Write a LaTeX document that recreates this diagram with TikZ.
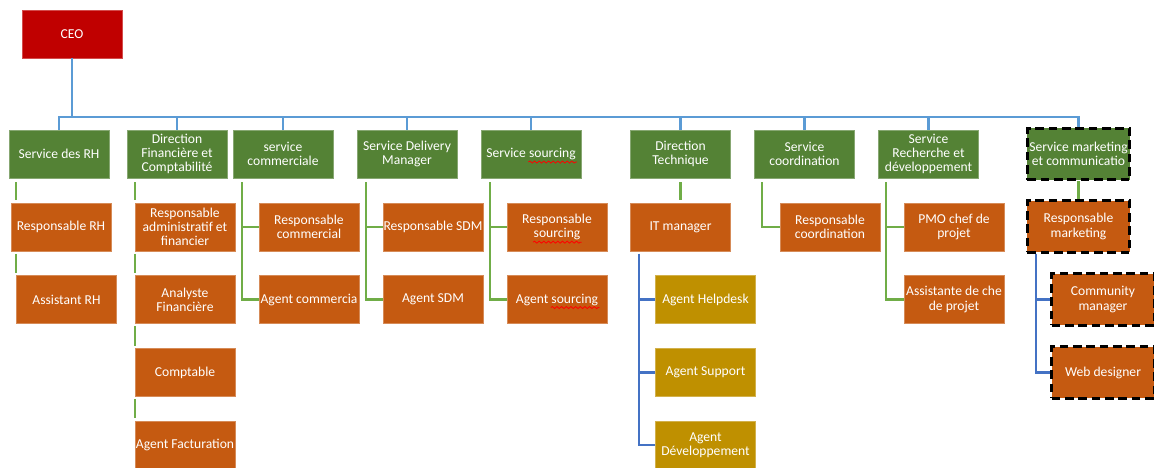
\documentclass[tikz,border=0pt]{standalone}
\usepackage{fontspec}
\setmainfont{Carlito}
\usetikzlibrary{calc,decorations.pathmorphing}
\definecolor{ceored}{HTML}{C00000}
\definecolor{dgreen}{HTML}{548235}
\definecolor{orng}{HTML}{C55A11}
\definecolor{goldc}{HTML}{BF9000}
\definecolor{busblue}{HTML}{5B9BD5}
\definecolor{dblue}{HTML}{4472C4}
\definecolor{lgreen}{HTML}{70AD47}
\tikzset{
  box/.style={shape=rectangle, draw=#1!70!white, line width=0.4pt, fill=#1, text=white,
    minimum width=75pt, minimum height=36pt, inner sep=0.5pt, align=center,
    font=\fontsize{10.2}{10.6}\selectfont},
  dashbox/.style={box=#1, draw=black, line width=2.2pt, dash pattern=on 6.5pt off 3.5pt,
    minimum width=77pt, minimum height=38.5pt},
  bus/.style={draw=busblue, line width=2.2pt},
  gline/.style={draw=lgreen, line width=1.6pt},
  bline/.style={draw=dblue, line width=1.6pt},
  plainnode/.style={shape=rectangle, inner sep=0pt, outer sep=0pt, minimum width=0pt,
    minimum height=0pt, draw=none, fill=none, solid, line width=0.4pt},
  wavy/.style={draw=red, solid, line width=0.6pt, decorate,
    decoration={snake, amplitude=0.75pt, segment length=3.5pt}},
}
\newcommand{\spellwave}[1]{\tikz[baseline=(sw.base)]{\node[plainnode] (sw) {#1};%
  \draw[wavy, overlay] ([xshift=-0.5pt,yshift=-3.4pt]sw.base west) -- ([xshift=1pt,yshift=-3.4pt]sw.base east);}}
\begin{document}
\begin{tikzpicture}[x=0.75pt,y=-0.75pt]
\useasboundingbox (0,0) rectangle (1154,468);
% CEO
\node[box=ceored] (ceo) at (72,34) {CEO};
% level 1
\node[box=dgreen] (rh) at (59,154) {Service des RH};
\node[box=dgreen] (fin) at (177,154) {Direction\\Financière et\\Comptabilité};
\node[box=dgreen] (com) at (283,154) {service\\commerciale};
\node[box=dgreen] (sdm) at (407,154) {Service Delivery\\Manager};
\node[box=dgreen] (src) at (531,154) {Service \spellwave{sourcing}};
\node[box=dgreen] (tech) at (680.5,154) {Direction\\Technique};
\node[box=dgreen] (coord) at (804.5,154) {Service\\coordination};
\node[box=dgreen] (rd) at (928.5,154) {Service\\Recherche et\\développement};
\node[dashbox=dgreen] (mkt) at (1078.5,154) {Service marketing\\et communicatio};
% level 2
\node[box=orng] (resprh) at (61,227) {Responsable RH};
\node[box=orng] (adm) at (185,227) {Responsable\\administratif et\\financier};
\node[box=orng] (respcom) at (309,227) {Responsable\\commercial};
\node[box=orng] (respsdm) at (433,227) {Responsable SDM};
\node[box=orng] (respsrc) at (557,227) {Responsable\\\spellwave{sourcing}};
\node[box=orng] (itm) at (680.5,227) {IT manager};
\node[box=orng] (respcoord) at (830,227) {Responsable\\coordination};
\node[box=orng] (pmo) at (954,227) {PMO chef de\\projet};
\node[dashbox=orng] (respmkt) at (1078.5,226.5) {Responsable\\marketing};
% level 3
\node[box=orng] (assrh) at (66.5,299.5) {Assistant RH};
\node[box=orng] (ana) at (185,299.5) {Analyste\\Financière};
\node[box=orng] (agcom) at (309,299.5) {Agent commercia};
\node[box=orng] (agsdm) at (433,299.5) {Agent SDM};
\node[box=orng] (agsrc) at (557,299.5) {Agent \spellwave{sourcing}};
\node[box=goldc] (helpdesk) at (705.5,299.5) {Agent Helpdesk};
\node[box=orng] (asschef) at (954,299.5) {Assistante de che\\de projet};
\node[dashbox=orng] (cm) at (1103,299.5) {Community\\manager};
% level 4
\node[box=orng] (compt) at (185,372.5) {Comptable};
\node[box=goldc] (support) at (705.5,372.5) {Agent Support};
\node[dashbox=orng] (web) at (1103,372.5) {Web designer};
% level 5
\node[box=orng] (factu) at (185,445) {Agent Facturation};
\node[box=goldc] (dev) at (705.5,445) {Agent\\Développement};
% bus
\coordinate (busy) at (0,117);
\draw[bus] (ceo.south) -- (ceo.south |- busy);
\foreach \n in {rh,fin,com,sdm,src,tech,coord,rd,mkt}
  \draw[bus] (ceo.south |- busy) -| (\n.north);
% RH
\coordinate (rhx) at (16,0);
\draw[gline] ([yshift=-3pt]rh.south -| rhx) -- ([yshift=2pt]resprh.north -| rhx);
\draw[gline] ([yshift=-2pt]resprh.south -| rhx) -- ([yshift=2pt]assrh.north -| rhx);
% Finance
\draw[gline] ([yshift=-3pt]fin.south -| adm.west) -- ([yshift=2pt]adm.north west);
\draw[gline] ([yshift=-2pt]adm.south west) -- ([yshift=2pt]ana.north west);
\draw[gline] ([yshift=-2pt]ana.south west) -- ([yshift=2pt]compt.north west);
\draw[gline] ([yshift=-2pt]compt.south west) -- ([yshift=2pt]factu.north west);
% commercial
\draw[gline] ([xshift=7pt,yshift=-3pt]com.south west) |- (respcom.west);
\draw[gline] ([xshift=7pt,yshift=-3pt]com.south west) |- (agcom.west);
% SDM
\draw[gline] ([xshift=7pt,yshift=-3pt]sdm.south west) |- (respsdm.west);
\draw[gline] ([xshift=7pt,yshift=-3pt]sdm.south west) |- (agsdm.west);
% sourcing
\draw[gline] ([xshift=7pt,yshift=-3pt]src.south west) |- (respsrc.west);
\draw[gline] ([xshift=7pt,yshift=-3pt]src.south west) |- (agsrc.west);
% technique
\draw[gline] ([yshift=-3pt]tech.south) -- ([yshift=2pt]itm.north);
\draw[bline] ([xshift=6.75pt,yshift=-2pt]itm.south west) |- (helpdesk.west);
\draw[bline] ([xshift=6.75pt,yshift=-2pt]itm.south west) |- (support.west);
\draw[bline] ([xshift=6.75pt,yshift=-2pt]itm.south west) |- (dev.west);
% coordination
\draw[gline] ([xshift=6pt,yshift=-3pt]coord.south west) |- (respcoord.west);
% R&D
\draw[gline] ([xshift=6pt,yshift=-3pt]rd.south west) |- (pmo.west);
\draw[gline] ([xshift=6pt,yshift=-3pt]rd.south west) |- (asschef.west);
% marketing
\draw[gline] (mkt.south) -- (respmkt.north);
\draw[bline] ([xshift=8pt]respmkt.south west) |- (cm.west);
\draw[bline] ([xshift=8pt]respmkt.south west) |- (web.west);
\end{tikzpicture}
\end{document}
